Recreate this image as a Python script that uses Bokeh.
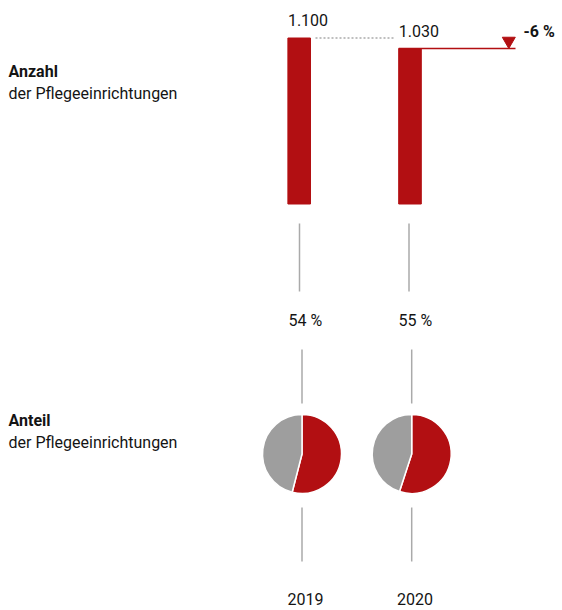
import math
from bokeh.plotting import figure
from bokeh.models import Range1d, ColumnDataSource
from bokeh.core.properties import value
from bokeh.embed import file_html
from bokeh.resources import INLINE

# ---- data ----
years = ["2019", "2020"]
counts = [1100, 1030]
count_labels = ["1.100", "1.030"]
shares = [54, 55]
share_labels = ["54 %", "55 %"]
change_label = "-6 %"
title_top = ["Anzahl", "der Pflegeeinrichtungen"]
title_bottom = ["Anteil", "der Pflegeeinrichtungen"]

RED = "#B20F12"
GREY = "#9E9E9E"
LINE_GREY = "#AAAAAA"
TXT = "#141414"
FONT = "Roboto"
FS = "16px"

W, H = 562, 610


def PY(page_y):
    return H - page_y


def PX(page_x):
    return page_x


p = figure(width=W, height=H, output_backend="svg", toolbar_location=None,
           x_range=Range1d(0, W), y_range=Range1d(0, H),
           x_axis_type=None, y_axis_type=None, min_border=0,
           outline_line_color=None, background_fill_color="white",
           border_fill_color="white")
p.grid.visible = False

# value scale for bars: 0 at page y 203.5, 1100 at page y 37.5
px_per_unit = 166 / 1100
p.extra_y_ranges = {"val": Range1d(start=-(H - 203.5) / px_per_unit,
                                   end=203.5 / px_per_unit)}

bar_x = [PX(298.7), PX(409.5)]
pie_x = [PX(301.5), PX(411.2)]
bar_w = 22.6

src = ColumnDataSource(dict(x=bar_x, top=counts, lab=count_labels,
                            lx=[x - bar_w / 2 for x in bar_x]))
p.vbar(x="x", top="top", bottom=0, width=bar_w, source=src, color=RED,
       y_range_name="val")
p.text(x="lx", y="top", text="lab", source=src, y_range_name="val",
       text_font=value(FONT), text_font_size=FS, text_color=TXT,
       text_baseline="middle", text_align="left", y_offset=-18)

# dotted reference line from first bar level
p.segment(x0=[bar_x[0] + bar_w / 2 + 5], x1=[PX(393)], y0=[counts[0]], y1=[counts[0]],
          y_range_name="val", line_color=LINE_GREY, line_dash="2 2", line_width=1.3)
# red change line
p.segment(x0=[bar_x[1] - bar_w / 2], x1=[PX(515)], y0=[counts[1]], y1=[counts[1]],
          y_range_name="val", line_color=RED, line_width=1.5)
p.scatter(x=[PX(508.3)], y=[PY(40.5)], marker="inverted_triangle", size=13,
          color=RED)
p.text(x=[PX(523)], y=[PY(31)], text=[change_label], text_font=value(FONT),
       text_font_size=FS, text_font_style="bold", text_color=TXT,
       text_baseline="middle")

# connector lines
p.segment(x0=[PX(299), PX(408.5)], x1=[PX(299), PX(408.5)],
          y0=[PY(223)] * 2, y1=[PY(291)] * 2, line_color=LINE_GREY, line_width=1.5)
p.segment(x0=pie_x, x1=pie_x, y0=[PY(349)] * 2, y1=[PY(403)] * 2,
          line_color=LINE_GREY, line_width=1.5)
p.segment(x0=pie_x, x1=pie_x, y0=[PY(507)] * 2, y1=[PY(561)] * 2,
          line_color=LINE_GREY, line_width=1.5)

# share labels
p.text(x=[PX(288), PX(398)], y=[PY(320)] * 2, text=share_labels,
       text_font=value(FONT), text_font_size=FS, text_color=TXT,
       text_baseline="middle")

# pies
for cx, s in zip(pie_x, shares):
    a = math.pi / 2 - 2 * math.pi * s / 100
    p.wedge(x=[cx], y=[PY(453.5)], radius=39.5, radius_units="screen",
            start_angle=math.pi / 2, end_angle=a, direction="clock",
            fill_color=RED, line_color="white", line_width=1.5)
    p.wedge(x=[cx], y=[PY(453.5)], radius=39.5, radius_units="screen",
            start_angle=a, end_angle=math.pi / 2, direction="clock",
            fill_color=GREY, line_color="white", line_width=1.5)

# years
p.text(x=[PX(287), PX(396.5)], y=[PY(598)] * 2, text=years,
       text_font=value(FONT), text_font_size=FS, text_color=TXT,
       text_baseline="middle")

# left titles
p.text(x=[PX(8)], y=[PY(71)], text=[title_top[0]], text_font=value(FONT),
       text_font_size=FS, text_font_style="bold", text_color=TXT,
       text_baseline="middle")
p.text(x=[PX(8)], y=[PY(93)], text=[title_top[1]], text_font=value(FONT),
       text_font_size=FS, text_color=TXT, text_baseline="middle")
p.text(x=[PX(8)], y=[PY(420)], text=[title_bottom[0]], text_font=value(FONT),
       text_font_size=FS, text_font_style="bold", text_color=TXT,
       text_baseline="middle")
p.text(x=[PX(8)], y=[PY(442)], text=[title_bottom[1]], text_font=value(FONT),
       text_font_size=FS, text_color=TXT, text_baseline="middle")

open("out.html", "w").write(file_html(p, INLINE))
